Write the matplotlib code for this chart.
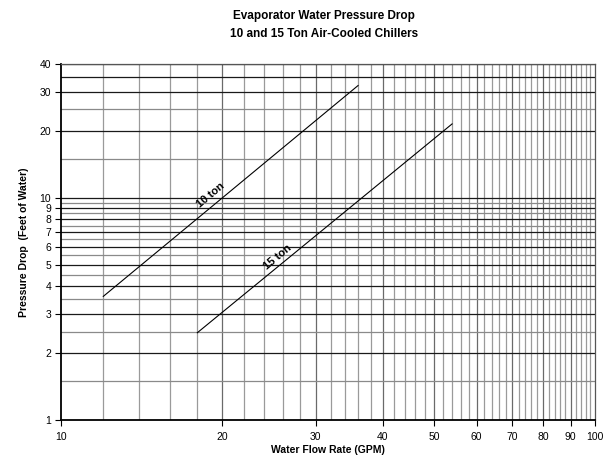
import matplotlib
matplotlib.use("Agg")
import matplotlib.pyplot as plt
import numpy as np

plt.rcParams['font.family'] = ['Liberation Sans', 'DejaVu Sans']

# Data
gpm_10ton = [12, 36]
dp_10ton = [3.6, 32]
gpm_15ton = [18, 54]
dp_15ton = [2.47, 21.5]

x_ticks = [10, 20, 30, 40, 50, 60, 70, 80, 90, 100]
y_ticks = [1, 2, 3, 4, 5, 6, 7, 8, 9, 10, 20, 30, 40]
x_grid = list(range(12, 100, 2))
y_grid_major = [2, 3, 4, 5, 6, 7, 8, 9, 10, 20, 30, 35, 40]
y_grid_minor = [1.5, 2.5, 3.5, 4.5, 5.5, 6.5, 7.5, 8.5, 9.5, 15, 25]

fig = plt.figure(figsize=(6.09, 4.59), dpi=100)
ax = fig.add_axes([61/609, 39/459, (595-61)/609, (420-64)/459])
ax.set_xscale('log')
ax.set_yscale('log')
ax.set_xlim(10, 100)
ax.set_ylim(1, 40)

for x in x_grid:
    c = '#6a6a6a' if x % 10 == 0 else '#9a9a9a'
    ax.axvline(x, color=c, lw=0.9, zorder=1)
for y in y_grid_minor:
    ax.axhline(y, color='#8a8a8a', lw=0.9, zorder=1)
for y in y_grid_major:
    ax.axhline(y, color='#1a1a1a', lw=0.9, zorder=1)

ax.plot(gpm_10ton, dp_10ton, color='black', lw=0.8, zorder=3)
ax.plot(gpm_15ton, dp_15ton, color='black', lw=0.8, zorder=3)

ax.text(19.1, 10.3, '10 ton', rotation=40, ha='center', va='center',
        fontsize=8, fontweight='bold', zorder=4)
ax.text(25.4, 5.42, '15 ton', rotation=40, ha='center', va='center',
        fontsize=8, fontweight='bold', zorder=4)

ax.xaxis.set_major_locator(matplotlib.ticker.FixedLocator(x_ticks))
ax.xaxis.set_minor_locator(matplotlib.ticker.NullLocator())
ax.set_xticklabels([str(v) for v in x_ticks])
ax.yaxis.set_major_locator(matplotlib.ticker.FixedLocator(y_ticks))
ax.yaxis.set_minor_locator(matplotlib.ticker.NullLocator())
ax.set_yticklabels([str(v) for v in y_ticks])
ax.tick_params(axis='both', labelsize=7.5, length=4, width=0.8, direction='out')
ax.tick_params(axis='x', pad=5)
ax.tick_params(axis='y', pad=3)

for side in ['top', 'right']:
    ax.spines[side].set_color('#555555')
    ax.spines[side].set_linewidth(0.9)
for side in ['left', 'bottom']:
    ax.spines[side].set_color('black')
    ax.spines[side].set_linewidth(1.3)

ax.set_xlabel('Water Flow Rate (GPM)', fontsize=7.5, fontweight='bold', labelpad=2)
ax.set_ylabel('Pressure Drop  (Feet of Water)', fontsize=7.5, fontweight='bold', labelpad=8)
fig.text(324/609, 1 - 16/459, 'Evaporator Water Pressure Drop', ha='center', va='center',
         fontsize=8.5, fontweight='bold')
fig.text(324/609, 1 - 34/459, '10 and 15 Ton Air-Cooled Chillers', ha='center', va='center',
         fontsize=8.5, fontweight='bold')

fig.savefig('out.png', dpi=100)
